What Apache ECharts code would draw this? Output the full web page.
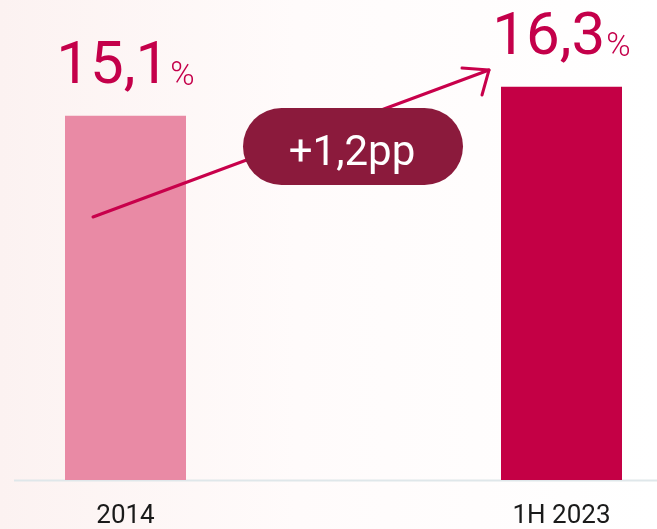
<!DOCTYPE html>
<html>
<head>
<meta charset="utf-8">
<script src="https://cdn.jsdelivr.net/npm/echarts@6/dist/echarts.min.js"></script>
<style>
  html, body { margin: 0; padding: 0; }
  #main { width: 657px; height: 529px; }
</style>
</head>
<body>
<div id="main"></div>
<script>
"use strict";
// chart data
const categories = ["2014", "1H 2023"];
const shares = [15.1, 16.3];
const changeLabel = "+1,2pp";

const barColors = ["#e98aa5", "#c40045"];
const FONT = "Roboto";

var chartDom = document.getElementById("main");
var myChart = echarts.init(chartDom);
var option;

option = {
  backgroundColor: new echarts.graphic.LinearGradient(0, 0, 1, 0, [
    { offset: 0, color: "#fcf2f1" },
    { offset: 0.45, color: "#fffbfb" },
    { offset: 1, color: "#ffffff" },
  ]),
  animation: false,
  grid: {
    left: 125.5,
    right: 95.5,
    top: 0,
    bottom: 48,
  },
  xAxis: {
    type: "category",
    data: categories,
    boundaryGap: false,
    axisLine: { show: false },
    axisTick: { show: false },
    axisLabel: {
      margin: 23,
      fontFamily: FONT,
      fontSize: 26,
      color: "#1a1a1a",
    },
  },
  yAxis: {
    type: "value",
    min: 0,
    max: 19.9,
    show: false,
    splitLine: { show: false },
  },
  graphic: [
    {
      // baseline
      type: "line",
      z: 1,
      shape: { x1: 14, y1: 480.5, x2: 657, y2: 480.5 },
      style: { stroke: "#dfe7ea", lineWidth: 2 },
    },
    {
      // arrow
      type: "line",
      z: 100,
      shape: { x1: 93, y1: 217, x2: 489, y2: 70 },
      style: { stroke: "#c8004b", lineWidth: 3, lineCap: "round" },
    },
    {
      type: "polyline",
      z: 100,
      shape: { points: [[462, 68], [489, 70], [482, 95]] },
      style: { stroke: "#c8004b", lineWidth: 3, lineCap: "round", lineJoin: "round", fill: null },
    },
    {
      // change pill
      type: "rect",
      z: 110,
      shape: { x: 243, y: 108, width: 220, height: 77, r: 38.5 },
      style: { fill: "#8b1a3c" },
    },
    {
      type: "text",
      z: 111,
      x: 352,
      y: 154,
      style: {
        text: changeLabel,
        fill: "#ffffff",
        font: "42px " + FONT,
        textAlign: "center",
        textVerticalAlign: "middle",
      },
    },
  ],
  series: [
    {
      type: "bar",
      barWidth: 121,
      z: 2,
      data: shares.map((v, i) => ({ value: v, itemStyle: { color: barColors[i] } })),
      label: {
        show: true,
        position: "top",
        distance: 18,
        formatter: (p) => "{a|" + String(p.value).replace(".", ",") + "}{b|%}",
        rich: {
          a: { fontFamily: FONT, fontSize: 60, lineHeight: 60, color: "#c4004a", verticalAlign: "bottom" },
          b: { fontFamily: FONT, fontSize: 33, fontWeight: 300, lineHeight: 33, padding: [0, 0, 5, 1], color: "#c4004a", verticalAlign: "bottom" },
        },
      },
    },
  ],
};

option && myChart.setOption(option);
</script>
</body>
</html>
